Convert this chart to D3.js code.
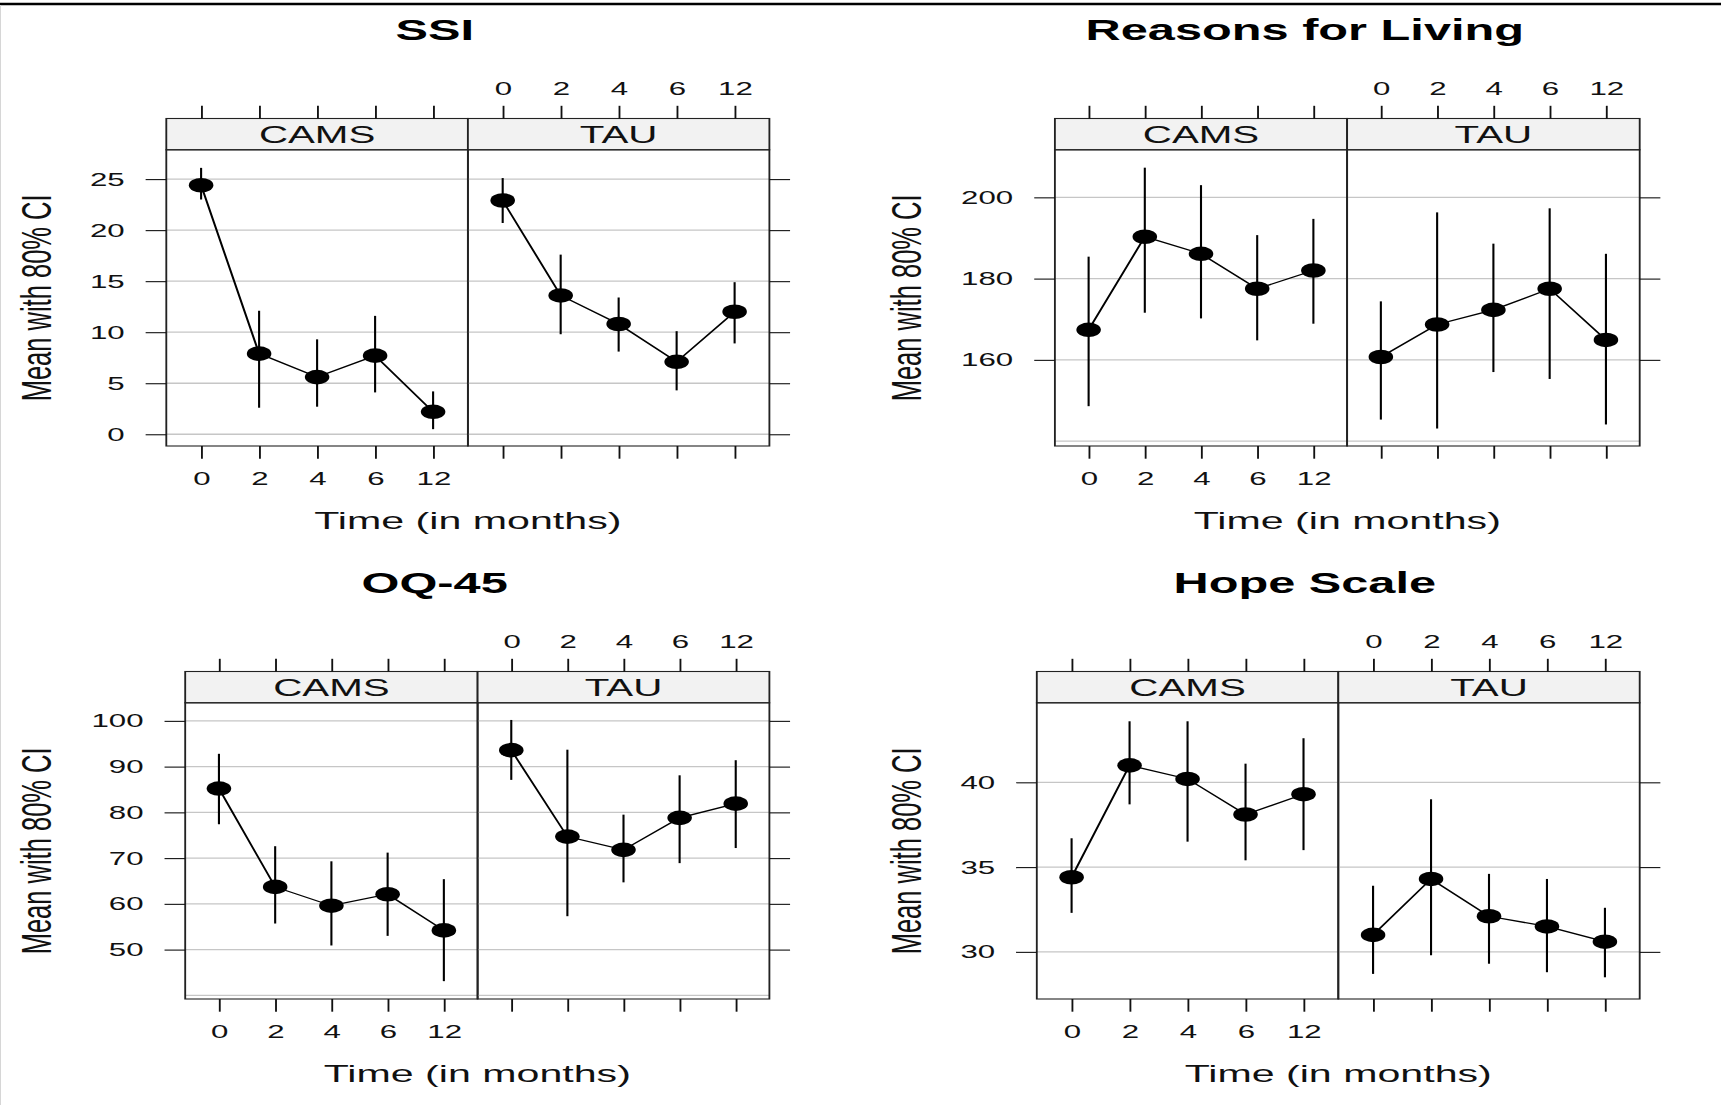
<!DOCTYPE html>
<html>
<head>
<meta charset="utf-8">
<script src="https://cdn.jsdelivr.net/npm/d3@7"></script>
<style>
  body { margin: 0; background: #fff; }
  svg text { font-family: "Liberation Sans", Arial, Helvetica, sans-serif; }
</style>
</head>
<body>
<div id="chart"></div>
<script>
// categories
var times = ["0", "2", "4", "6", "12"];
var groups = ["CAMS", "TAU"];

// SSI
var ssiCamsMean = [24.4, 7.9, 5.6, 7.7, 2.2];
var ssiCamsLow  = [23.0, 2.6, 2.7, 4.1, 0.5];
var ssiCamsHigh = [26.1, 12.1, 9.3, 11.6, 4.2];
var ssiTauMean  = [22.9, 13.6, 10.8, 7.1, 12.0];
var ssiTauLow   = [20.7, 9.8, 8.1, 4.3, 8.9];
var ssiTauHigh  = [25.1, 17.6, 13.4, 10.1, 14.9];
var ssiTicks  = [0, 5, 10, 15, 20, 25];
var ssiGrid   = [0, 5, 10, 15, 20, 25];
var ssiLimits = [-1.15, 27.87];

// Reasons for Living
var rflCamsMean = [167.4, 190.3, 186.1, 177.5, 182.0];
var rflCamsLow  = [148.6, 171.6, 170.2, 164.8, 168.9];
var rflCamsHigh = [185.4, 207.3, 203.0, 190.7, 194.7];
var rflTauMean  = [160.7, 168.7, 172.3, 177.5, 164.9];
var rflTauLow   = [145.3, 143.1, 157.0, 155.3, 144.1];
var rflTauHigh  = [174.4, 196.3, 188.6, 197.3, 186.1];
var rflTicks  = [160, 180, 200];
var rflGrid   = [140, 160, 180, 200];
var rflLimits = [138.8, 211.7];

// OQ-45
var oqCamsMean = [85.2, 63.7, 59.6, 62.1, 54.2];
var oqCamsLow  = [77.4, 55.7, 50.9, 53.0, 43.1];
var oqCamsHigh = [92.8, 72.6, 69.3, 71.2, 65.4];
var oqTauMean  = [93.6, 74.7, 71.8, 78.8, 81.9];
var oqTauLow   = [87.1, 57.3, 64.7, 68.9, 72.2];
var oqTauHigh  = [100.2, 93.7, 79.5, 88.1, 91.4];
var oqTicks  = [50, 60, 70, 80, 90, 100];
var oqGrid   = [40, 50, 60, 70, 80, 90, 100];
var oqLimits = [39.2, 103.95];

// Hope Scale
var hopeCamsMean = [34.4, 41.0, 40.2, 38.1, 39.3];
var hopeCamsLow  = [32.3, 38.7, 36.5, 35.4, 36.0];
var hopeCamsHigh = [36.7, 43.6, 43.6, 41.1, 42.6];
var hopeTauMean  = [31.0, 34.3, 32.1, 31.5, 30.6];
var hopeTauLow   = [28.7, 29.8, 29.3, 28.8, 28.5];
var hopeTauHigh  = [33.9, 39.0, 34.6, 34.3, 32.6];
var hopeTicks  = [30, 35, 40];
var hopeGrid   = [30, 35, 40];
var hopeLimits = [27.22, 44.69];

function rows(mean, low, high) {
  return times.map(function(t, i) { return { time: t, mean: mean[i], low: low[i], high: high[i] }; });
}

var panels = [
  { title: "SSI", row: 0, col: 0, left: 166.3, mid: 467.9, ticks: ssiTicks, grid: ssiGrid, limits: ssiLimits,
    series: [rows(ssiCamsMean, ssiCamsLow, ssiCamsHigh), rows(ssiTauMean, ssiTauLow, ssiTauHigh)] },
  { title: "Reasons for Living", row: 0, col: 1, left: 1054.9, mid: 1347.1, ticks: rflTicks, grid: rflGrid, limits: rflLimits,
    series: [rows(rflCamsMean, rflCamsLow, rflCamsHigh), rows(rflTauMean, rflTauLow, rflTauHigh)] },
  { title: "OQ-45", row: 1, col: 0, left: 185.2, mid: 477.6, ticks: oqTicks, grid: oqGrid, limits: oqLimits,
    series: [rows(oqCamsMean, oqCamsLow, oqCamsHigh), rows(oqTauMean, oqTauLow, oqTauHigh)] },
  { title: "Hope Scale", row: 1, col: 1, left: 1036.8, mid: 1338.3, ticks: hopeTicks, grid: hopeGrid, limits: hopeLimits,
    series: [rows(hopeCamsMean, hopeCamsLow, hopeCamsHigh), rows(hopeTauMean, hopeTauLow, hopeTauHigh)] }
];

// the reference picture is stretched sideways, so everything is drawn in
// narrow units and scaled horizontally
var SX = 1.68;
var W = 1721, H = 1105;
var rowOffset = [0, 553];
var colRight = [769.4, 1639.7];
var colTitleX = [434.7, 1304.8];
var colYLabelX = [51, 921];
var tickFont = 18.6;

var svg = d3.select("#chart")
    .append("svg")
    .attr("width", W)
    .attr("height", H);

svg.append("rect").attr("width", W).attr("height", H).attr("fill", "#fff");
svg.append("line").attr("x1", 0).attr("x2", W).attr("y1", 4).attr("y2", 4)
    .attr("stroke", "#000").attr("stroke-width", 2.5);
svg.append("line").attr("x1", 0.5).attr("x2", 0.5).attr("y1", 5).attr("y2", H)
    .attr("stroke", "#d6d6d6").attr("stroke-width", 1);

var root = svg.append("g").attr("transform", "scale(" + SX + ",1)");

function styleAxis(sel, size) {
  sel.select(".domain").remove();
  sel.attr("font-size", size).attr("font-family", null);
  sel.selectAll(".tick line").attr("stroke", "#111").attr("stroke-width", 1.1);
  sel.selectAll(".tick text").attr("fill", "#111");
}

panels.forEach(function(p) {
  var dy = rowOffset[p.row];
  var stripTop = 118.5 + dy, stripBottom = 149.8 + dy, bottom = 446 + dy;
  var left = p.left / SX, mid = p.mid / SX, right = colRight[p.col] / SX;

  var y = d3.scaleLinear().domain(p.limits).range([bottom, stripBottom]);
  var g = root.append("g");

  // title
  g.append("text")
      .attr("x", colTitleX[p.col] / SX)
      .attr("y", 40 + dy)
      .attr("text-anchor", "middle")
      .attr("font-size", 29)
      .attr("font-weight", "bold")
      .text(p.title);

  // y label
  g.append("text")
      .attr("transform", "translate(" + (colYLabelX[p.col] / SX) + "," + ((stripBottom + bottom) / 2) + ") rotate(-90)")
      .attr("text-anchor", "middle")
      .attr("font-size", 25.5)
      .attr("fill", "#111")
      .text("Mean with 80% CI");

  // x label
  g.append("text")
      .attr("x", (left + right) / 2)
      .attr("y", 529.3 + dy)
      .attr("text-anchor", "middle")
      .attr("font-size", 24.5)
      .attr("fill", "#111")
      .text("Time (in months)");

  var bounds = [[left, mid], [mid, right]];

  groups.forEach(function(grp, i) {
    var x0 = bounds[i][0], x1 = bounds[i][1];
    var x = d3.scalePoint().domain(times).range([x0, x1]).padding(0.6);
    var data = p.series[i];
    var pg = g.append("g");

    // grid lines
    pg.selectAll("line.grid")
        .data(p.grid.filter(function(v) { return v >= p.limits[0] && v <= p.limits[1]; }))
        .enter()
        .append("line")
        .attr("class", "grid")
        .attr("x1", x0).attr("x2", x1)
        .attr("y1", function(d) { return y(d); })
        .attr("y2", function(d) { return y(d); })
        .attr("stroke", "#c6c6c6")
        .attr("stroke-width", 1.3);

    // strip
    pg.append("rect")
        .attr("x", x0).attr("y", stripTop)
        .attr("width", x1 - x0).attr("height", stripBottom - stripTop)
        .attr("fill", "#f2f2f2")
        .attr("stroke", "#222")
        .attr("stroke-width", 1.1);
    pg.append("text")
        .attr("x", (x0 + x1) / 2)
        .attr("y", (stripTop + stripBottom) / 2)
        .attr("dy", "0.36em")
        .attr("text-anchor", "middle")
        .attr("font-size", 24)
        .attr("fill", "#111")
        .text(grp);

    // panel box
    pg.append("rect")
        .attr("x", x0).attr("y", stripBottom)
        .attr("width", x1 - x0).attr("height", bottom - stripBottom)
        .attr("fill", "none")
        .attr("stroke", "#222")
        .attr("stroke-width", 1.1);

    // axes
    var top = pg.append("g")
        .attr("transform", "translate(0," + stripTop + ")")
        .call(d3.axisTop(x).tickSize(12.7).tickPadding(10.5).tickFormat(i == 1 ? null : function() { return ""; }));
    styleAxis(top, tickFont);

    var bot = pg.append("g")
        .attr("transform", "translate(0," + bottom + ")")
        .call(d3.axisBottom(x).tickSize(12.7).tickPadding(13.5).tickFormat(i == 0 ? null : function() { return ""; }));
    styleAxis(bot, tickFont);

    if (i == 0) {
      var la = pg.append("g")
          .attr("transform", "translate(" + x0 + ",0)")
          .call(d3.axisLeft(y).tickValues(p.ticks).tickSize(12.3).tickPadding(12.5));
      styleAxis(la, tickFont);
    } else {
      var ra = pg.append("g")
          .attr("transform", "translate(" + x1 + ",0)")
          .call(d3.axisRight(y).tickValues(p.ticks).tickSize(12.3).tickFormat(function() { return ""; }));
      styleAxis(ra, tickFont);
    }

    // confidence intervals
    pg.selectAll("line.ci")
        .data(data)
        .enter()
        .append("line")
        .attr("class", "ci")
        .attr("x1", function(d) { return x(d.time); })
        .attr("x2", function(d) { return x(d.time); })
        .attr("y1", function(d) { return y(d.low); })
        .attr("y2", function(d) { return y(d.high); })
        .attr("stroke", "#000")
        .attr("stroke-width", 1.25);

    // mean line
    pg.append("path")
        .datum(data)
        .attr("fill", "none")
        .attr("stroke", "#000")
        .attr("stroke-width", 1.25)
        .attr("d", d3.line()
            .x(function(d) { return x(d.time); })
            .y(function(d) { return y(d.mean); }));

    // points
    pg.selectAll("circle")
        .data(data)
        .enter()
        .append("circle")
        .attr("cx", function(d) { return x(d.time); })
        .attr("cy", function(d) { return y(d.mean); })
        .attr("r", 7.3)
        .attr("fill", "#000");
  });
});
</script>
</body>
</html>
